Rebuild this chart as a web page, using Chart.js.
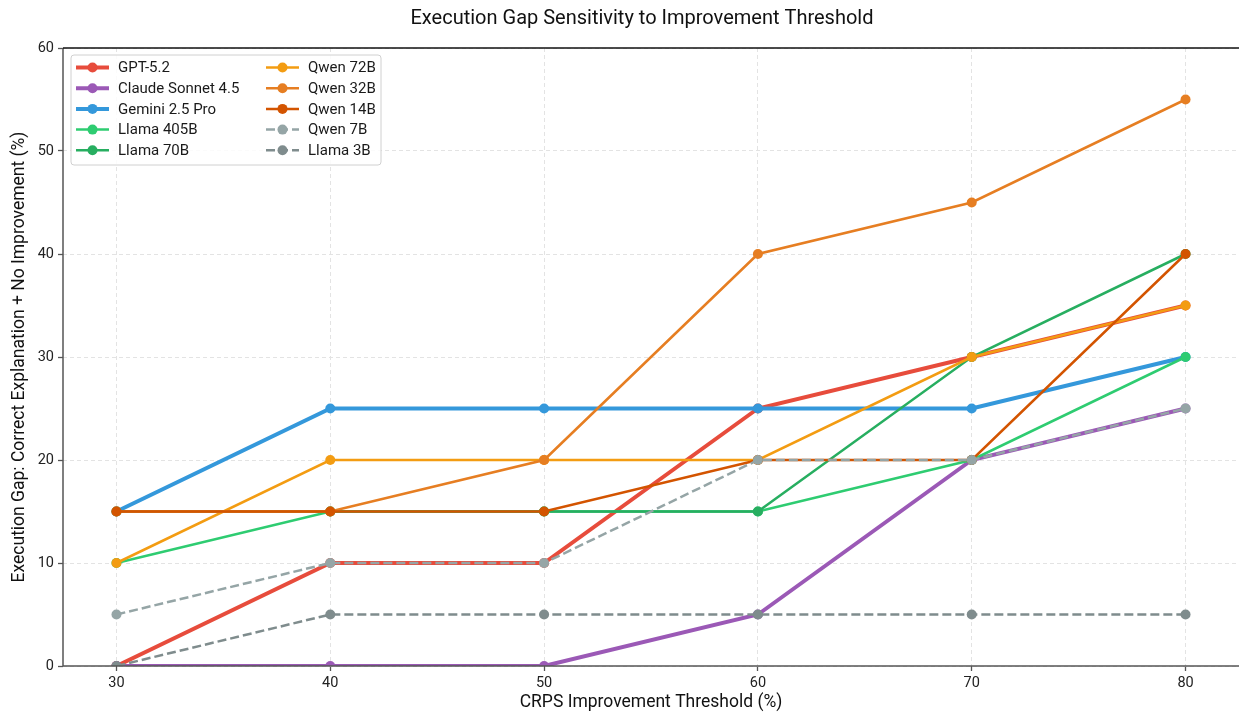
<!DOCTYPE html>
<html>
<head>
<meta charset="utf-8">
<title>Execution Gap Sensitivity</title>
<script src="https://cdn.jsdelivr.net/npm/chart.js@4/dist/chart.umd.min.js"></script>
<style>
  html, body { margin: 0; padding: 0; background: #fff; }
  #wrap { width: 1239px; height: 713px; }
</style>
</head>
<body>
<div id="wrap"><canvas id="chart" width="1239" height="713"></canvas></div>
<script>
//x values (CRPS improvement threshold, %)
const thresholds = [30, 40, 50, 60, 70, 80];
const yTicks = [0, 10, 20, 30, 40, 50, 60];

//execution gap per model (%)
const gpt52 = [0, 10, 10, 25, 30, 35];
const claudeSonnet45 = [0, 0, 0, 5, 20, 25];
const gemini25Pro = [15, 25, 25, 25, 25, 30];
const llama405B = [10, 15, 15, 15, 20, 30];
const llama70B = [15, 15, 15, 15, 30, 40];
const qwen72B = [10, 20, 20, 20, 30, 35];
const qwen32B = [15, 15, 20, 40, 45, 55];
const qwen14B = [15, 15, 15, 20, 20, 40];
const qwen7B = [5, 10, 10, 20, 20, 25];
const llama3B = [0, 5, 5, 5, 5, 5];

const modelNames = ["GPT-5.2", "Claude Sonnet 4.5", "Gemini 2.5 Pro", "Llama 405B", "Llama 70B",
  "Qwen 72B", "Qwen 32B", "Qwen 14B", "Qwen 7B", "Llama 3B"];
const modelValues = [gpt52, claudeSonnet45, gemini25Pro, llama405B, llama70B,
  qwen72B, qwen32B, qwen14B, qwen7B, llama3B];

const chartTitle = "Execution Gap Sensitivity to Improvement Threshold";

//line colours
const lineColors = ["#e74c3c", "#9b59b6", "#3498db", "#2ecc71", "#27ae60",
  "#f39c12", "#e67e22", "#d35400", "#95a5a6", "#7f8c8d"];
//the frontier models get a thicker line, the small ones a dashed line
const thickModels = ["GPT-5.2", "Claude Sonnet 4.5", "Gemini 2.5 Pro"];
const dashedModels = ["Qwen 7B", "Llama 3B"];

const FONT = "Roboto, 'DejaVu Sans', sans-serif";

const datasets = modelNames.map((name, i) => ({
  label: name,
  data: thresholds.map((t, j) => ({ x: t, y: modelValues[i][j] })),
  borderColor: lineColors[i],
  backgroundColor: lineColors[i],
  borderWidth: thickModels.includes(name) ? 4 : 2.5,
  borderDash: dashedModels.includes(name) ? [9, 4] : [],
  pointRadius: 5,
  pointHoverRadius: 5,
  pointBorderWidth: 0,
  tension: 0,
  clip: 0,
  //later models are painted on top
  order: modelNames.length - i,
}));

//legend drawn in a box with two columns (5 rows each), plus the title
const boxLegend = {
  id: "boxLegend",
  afterDraw(chart) {
    const ctx = chart.ctx;
    const area = chart.chartArea;
    ctx.save();
    //title
    ctx.font = "20px " + FONT;
    ctx.fillStyle = "#111";
    ctx.textAlign = "center";
    ctx.textBaseline = "middle";
    ctx.fillText(chartTitle, 642, 19);
    ctx.textAlign = "left";

    const x0 = area.left + 8, y0 = area.top + 7;
    const w = 310, h = 110;
    ctx.fillStyle = "rgba(255,255,255,0.85)";
    ctx.strokeStyle = "#d0d0d0";
    ctx.lineWidth = 1;
    ctx.beginPath();
    ctx.roundRect(x0, y0, w, h, 3);
    ctx.fill();
    ctx.stroke();
    ctx.font = "15px " + FONT;
    ctx.fillStyle = "#1a1a1a";
    chart.data.datasets.forEach((ds, i) => {
      const col = Math.floor(i / 5), row = i % 5;
      const lx = x0 + 5 + col * 190;
      const ly = y0 + 12.5 + row * 20.7;
      ctx.save();
      ctx.strokeStyle = ds.borderColor;
      ctx.lineWidth = ds.borderWidth;
      ctx.setLineDash(ds.borderDash);
      ctx.beginPath();
      ctx.moveTo(lx, ly);
      ctx.lineTo(lx + 33, ly);
      ctx.stroke();
      ctx.fillStyle = ds.borderColor;
      ctx.beginPath();
      ctx.arc(lx + 16.5, ly, 5, 0, Math.PI * 2);
      ctx.fill();
      ctx.restore();
      ctx.fillText(ds.label, lx + 42, ly + 1);
    });
    ctx.restore();
  },
};

//axes frame: left/bottom grey, top black, right edge falls outside the picture
const frame = {
  id: "frame",
  afterDatasetsDraw(chart) {
    const ctx = chart.ctx;
    const a = chart.chartArea;
    ctx.save();
    ctx.lineWidth = 1.5;
    ctx.strokeStyle = "#555";
    ctx.beginPath();
    ctx.moveTo(a.left, a.top);
    ctx.lineTo(a.left, a.bottom);
    ctx.lineTo(a.right, a.bottom);
    ctx.stroke();
    ctx.strokeStyle = "#111";
    ctx.beginPath();
    ctx.moveTo(a.left, a.top);
    ctx.lineTo(a.right, a.top);
    ctx.stroke();
    ctx.restore();
  },
};

const gridStyle = {
  color: "#e3e3e3",
  lineWidth: 1,
  drawTicks: true,
  tickLength: 5,
  tickColor: "#555",
  tickWidth: 1.3,
  tickBorderDash: [],
};

new Chart(document.getElementById("chart"), {
  type: "line",
  data: { datasets: datasets },
  plugins: [frame, boxLegend],
  options: {
    responsive: false,
    animation: false,
    devicePixelRatio: 1,
    layout: { autoPadding: false, padding: { top: 48, left: 0, right: 0, bottom: 0 } },
    plugins: {
      legend: { display: false },
      tooltip: { enabled: false },
      title: { display: false },
    },
    scales: {
      x: {
        type: "linear",
        min: 27.5,
        max: 82.5,
        afterBuildTicks: (s) => { s.ticks = thresholds.map((v) => ({ value: v })); },
        afterFit: (s) => { s.height = 47; },
        grid: gridStyle,
        border: { display: false, dash: [4, 3] },
        ticks: { color: "#222", padding: 4, font: { family: FONT, size: 14.5 } },
        title: {
          display: true,
          text: "CRPS Improvement Threshold (%)",
          color: "#111",
          font: { family: FONT, size: 17.5, lineHeight: 1.2 },
          padding: { top: 0, bottom: 0 },
        },
      },
      y: {
        min: 0,
        max: 60,
        afterBuildTicks: (s) => { s.ticks = yTicks.map((v) => ({ value: v })); },
        afterFit: (s) => { s.width = 63; },
        grid: gridStyle,
        border: { display: false, dash: [4, 3] },
        ticks: { color: "#222", padding: 4, font: { family: FONT, size: 14.5 } },
        title: {
          display: true,
          text: "Execution Gap: Correct Explanation + No Improvement (%)",
          color: "#111",
          font: { family: FONT, size: 17.5, lineHeight: 1.2 },
          padding: { top: 9, bottom: 0 },
        },
      },
    },
  },
});
</script>
</body>
</html>
